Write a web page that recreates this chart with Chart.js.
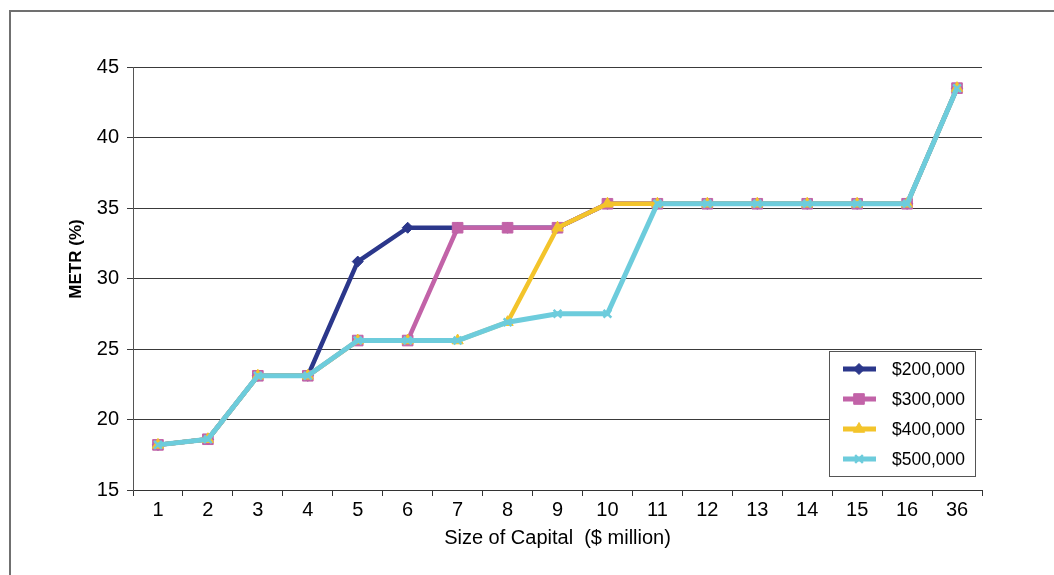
<!DOCTYPE html>
<html>
<head>
<meta charset="utf-8">
<script src="https://cdn.jsdelivr.net/npm/chart.js@4.4.1/dist/chart.umd.min.js"></script>
<style>
  body { margin: 0; background: #fff; }
</style>
</head>
<body>
<canvas id="metrChart" width="1054" height="575"></canvas>
<script>
let capital = ['1', '2', '3', '4', '5', '6', '7', '8', '9', '10', '11', '12', '13', '14', '15', '16', '36'];

let metr200 = [18.2, 18.6, 23.1, 23.1, 31.2, 33.6, 33.6, 33.6, 33.6, 35.3, 35.3, 35.3, 35.3, 35.3, 35.3, 35.3, 43.5];
let metr300 = [18.2, 18.6, 23.1, 23.1, 25.6, 25.6, 33.6, 33.6, 33.6, 35.3, 35.3, 35.3, 35.3, 35.3, 35.3, 35.3, 43.5];
let metr400 = [18.2, 18.6, 23.1, 23.1, 25.6, 25.6, 25.6, 26.9, 33.6, 35.3, 35.3, 35.3, 35.3, 35.3, 35.3, 35.3, 43.5];
let metr500 = [18.2, 18.6, 23.1, 23.1, 25.6, 25.6, 25.6, 26.9, 27.5, 27.5, 35.3, 35.3, 35.3, 35.3, 35.3, 35.3, 43.5];

let seriesNames = ['$200,000', '$300,000', '$400,000', '$500,000'];
let yTicks = [15, 20, 25, 30, 35, 40, 45];

let fontFamily = '"Liberation Sans", Arial, Helvetica, sans-serif';

// frame, y title and the boxed legend inside the plot
let extrasPlugin = {
    id: 'extras',
    beforeDraw(chart) {
        let ctx = chart.ctx;
        ctx.save();
        ctx.fillStyle = '#fff';
        ctx.fillRect(0, 0, chart.width, chart.height);
        ctx.strokeStyle = '#707070';
        ctx.lineWidth = 2;
        ctx.beginPath();
        ctx.moveTo(10, chart.height + 5);
        ctx.lineTo(10, 11);
        ctx.lineTo(chart.width + 5, 11);
        ctx.stroke();
        ctx.restore();
    },
    afterDraw(chart) {
        let ctx = chart.ctx;
        let area = chart.chartArea;

        // y axis title
        ctx.save();
        ctx.translate(76, 259);
        ctx.rotate(-Math.PI / 2);
        ctx.font = 'bold 17px ' + fontFamily;
        ctx.fillStyle = '#000';
        ctx.textAlign = 'center';
        ctx.textBaseline = 'middle';
        ctx.fillText('METR (%)', 0, 0);
        ctx.restore();

        // legend
        let x0 = area.right - 153;
        let y0 = area.top + 284;
        ctx.save();
        ctx.fillStyle = '#fff';
        ctx.fillRect(x0, y0, 146, 125);
        ctx.strokeStyle = '#555';
        ctx.lineWidth = 1;
        ctx.strokeRect(x0 + 0.5, y0 + 0.5, 146, 125);
        chart.data.datasets.forEach((ds, i) => {
            let y = y0 + 18 + i * 30;
            ctx.strokeStyle = ds.borderColor;
            ctx.lineWidth = 5;
            ctx.beginPath();
            ctx.moveTo(x0 + 14, y);
            ctx.lineTo(x0 + 47, y);
            ctx.stroke();
            ctx.fillStyle = ds.pointBackgroundColor;
            ctx.strokeStyle = ds.pointBorderColor;
            ctx.lineWidth = ds.pointBorderWidth;
            Chart.helpers.drawPoint(ctx, {
                pointStyle: ds.pointStyle,
                radius: ds.pointRadius,
                rotation: 0,
                borderWidth: ds.pointBorderWidth
            }, x0 + 30, y);
            ctx.fillStyle = '#000';
            ctx.font = '17.5px ' + fontFamily;
            ctx.textAlign = 'left';
            ctx.textBaseline = 'middle';
            ctx.fillText(seriesNames[i], x0 + 63, y + 1);
        });
        ctx.restore();
    }
};

let ctx = document.getElementById('metrChart').getContext('2d');
let chart = new Chart(ctx, {
    type: 'line',
    data: {
        labels: capital,
        datasets: [{
            label: seriesNames[0],
            data: metr200,
            borderColor: '#2B378B',
            borderWidth: 4.5,
            pointStyle: 'rectRot',
            pointRadius: 5.5,
            pointBackgroundColor: '#2B378B',
            pointBorderColor: '#2B378B',
            pointBorderWidth: 1,
            order: 4
        }, {
            label: seriesNames[1],
            data: metr300,
            borderColor: '#C263A8',
            borderWidth: 4.5,
            pointStyle: 'rect',
            pointRadius: 7.5,
            pointBackgroundColor: '#C263A8',
            pointBorderColor: '#C263A8',
            pointBorderWidth: 1,
            order: 3
        }, {
            label: seriesNames[2],
            data: metr400,
            borderColor: '#F3C42B',
            borderWidth: 4.5,
            pointStyle: 'triangle',
            pointRadius: 6.5,
            pointBackgroundColor: '#F3C42B',
            pointBorderColor: '#F3C42B',
            pointBorderWidth: 1,
            order: 2
        }, {
            label: seriesNames[3],
            data: metr500,
            borderColor: '#6DCCDC',
            borderWidth: 5,
            pointStyle: 'crossRot',
            pointRadius: 5.5,
            pointBackgroundColor: '#6DCCDC',
            pointBorderColor: '#6DCCDC',
            pointBorderWidth: 2.5,
            order: 1
        }]
    },
    options: {
        responsive: false,
        animation: false,
        layout: {
            padding: { left: 10, top: 67, right: 72, bottom: 10 }
        },
        elements: {
            line: { tension: 0, borderJoinStyle: 'round' }
        },
        plugins: {
            legend: { display: false },
            tooltip: { enabled: false }
        },
        scales: {
            x: {
                offset: true,
                grid: {
                    offset: true,
                    drawOnChartArea: false,
                    drawTicks: true,
                    tickLength: 6,
                    color: '#333'
                },
                border: { display: true, color: '#333', width: 1 },
                ticks: {
                    color: '#000',
                    font: { size: 20, family: fontFamily },
                    padding: 2,
                    maxRotation: 0,
                    autoSkip: false
                },
                title: {
                    display: true,
                    text: 'Size of Capital  ($ million)',
                    color: '#000',
                    font: { size: 20, family: fontFamily },
                    padding: { top: 0, bottom: 15 }
                },
                afterFit(scale) { scale.height = 75; }
            },
            y: {
                min: 15,
                max: 45,
                afterBuildTicks(scale) {
                    scale.ticks = yTicks.map(v => ({ value: v }));
                },
                grid: {
                    color: '#3a3a3a',
                    tickLength: 6,
                    lineWidth: 1
                },
                border: { display: true, color: '#555', width: 1 },
                ticks: {
                    color: '#000',
                    font: { size: 20, family: fontFamily },
                    padding: 8
                },
                afterFit(scale) { scale.width = 123; }
            }
        }
    },
    plugins: [extrasPlugin]
});
</script>
</body>
</html>
